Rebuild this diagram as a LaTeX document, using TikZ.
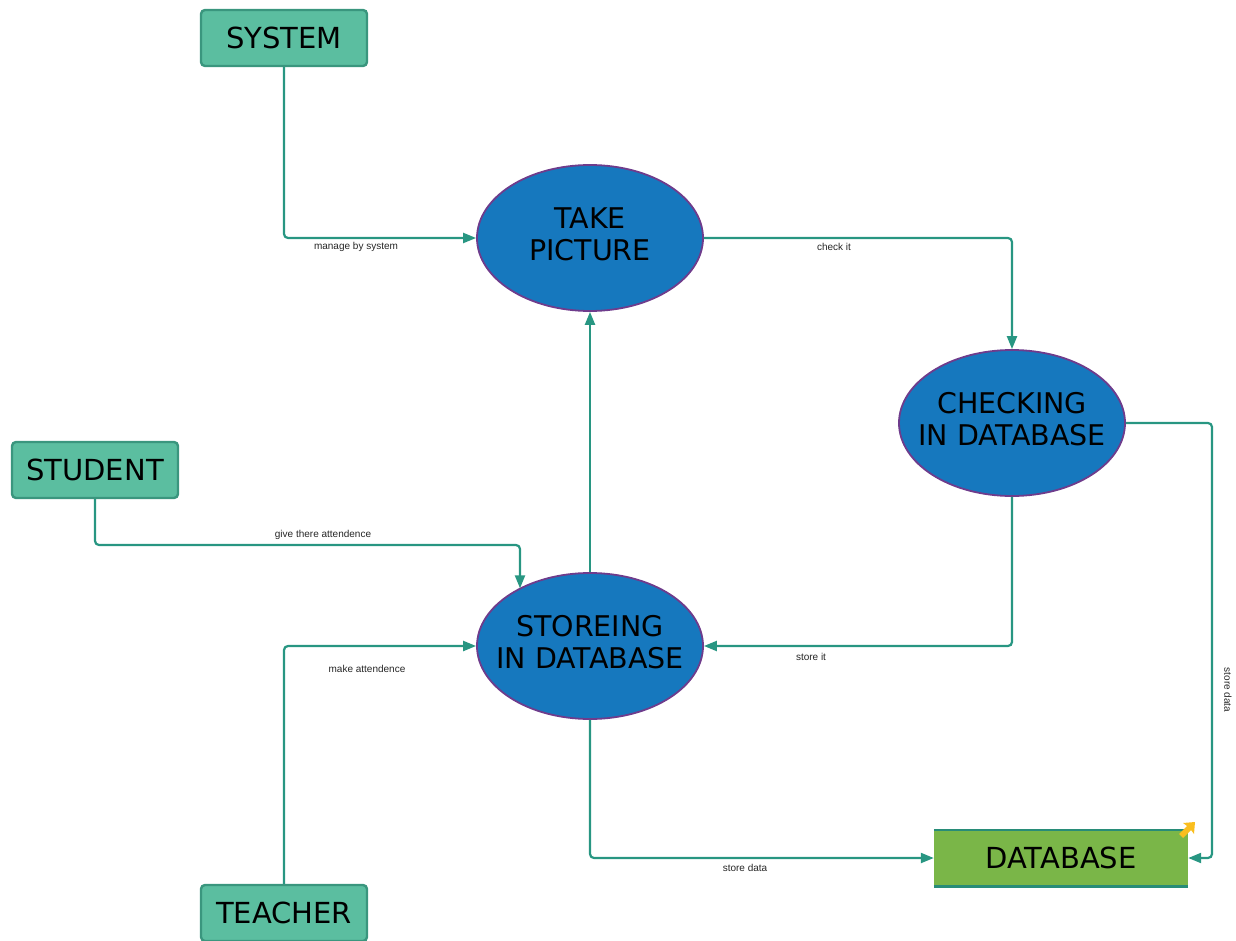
\documentclass[tikz,border=0pt]{standalone}
\usepackage{fontspec}
\setmainfont{Liberation Sans}
\newfontfamily\headfont{DejaVu Sans}
\usetikzlibrary{shapes.geometric,arrows.meta}
\definecolor{boxfill}{RGB}{91,190,160}
\definecolor{boxline}{RGB}{58,150,126}
\definecolor{ovalfill}{RGB}{22,120,190}
\definecolor{ovalline}{RGB}{110,60,140}
\definecolor{flow}{RGB}{40,150,130}
\definecolor{dbfill}{RGB}{122,182,72}
\definecolor{dbline}{RGB}{40,140,120}
\definecolor{tagyellow}{RGB}{250,190,30}
% two centred lines whose width does not count towards the node size
\newcommand{\twolines}[2]{\makebox[0pt]{\begin{tabular}{@{}c@{}}#1\\#2\end{tabular}}}
\tikzset{
  entity/.style={draw=boxline, line width=2.4pt, fill=boxfill, rounded corners=4pt,
    minimum width=166pt, minimum height=56pt, inner sep=0pt,
    font=\headfont\fontsize{29}{30}\selectfont},
  process/.style={ellipse, draw=ovalline, line width=1.8pt, fill=ovalfill,
    minimum width=226pt, minimum height=146pt, inner sep=0pt,
    font=\headfont\fontsize{28.5}{32}\selectfont},
  flowline/.style={draw=flow, line width=2.2pt, rounded corners=4pt,
    -{Triangle[length=13pt,width=10pt]}},
  flowlabel/.style={font=\fontsize{10}{12}\selectfont, text=black!85, inner sep=1pt}
}
\begin{document}
\begin{tikzpicture}[x=1pt,y=-1pt]
\useasboundingbox (0,0) rectangle (1236,941);

% external entities
\node[entity] (sys) at (284,38) {SYSTEM};
\node[entity] (stu) at (95,470) {STUDENT};
\node[entity] (tea) at (284,913) {TEACHER};

% processes
\node[process] (take) at (590,238) {\twolines{TAKE}{PICTURE}};
\node[process] (chk) at (1012,423) {\twolines{CHECKING}{IN DATABASE}};
\node[process] (sto) at (590,646) {\twolines{STOREING}{IN DATABASE}};

% data store
\node[minimum width=254pt, minimum height=56pt, inner sep=0pt, fill=dbfill,
      font=\headfont\fontsize{29}{30}\selectfont] (db) at (1061,858) {DATABASE};
\draw[dbline, line width=2.6pt] (db.north west) -- (db.north east);
\draw[dbline, line width=2.6pt] (db.south west) -- (db.south east);
\fill[tagyellow] (1179,834) -- (1187,826) -- (1183,823) -- (1195,822)
  -- (1194,834) -- (1191,830) -- (1183,838) -- cycle;

% bend points
\coordinate (sa) at (520,545);
\coordinate (ca) at (1212,858);

% flows
\draw[flowline] (sys.south) |- (take.west);
\draw[flowline] (take.east) -| (chk.north);
\draw[flowline] (chk.east) -| (ca) -- (db.east);
\draw[flowline] (chk.south) |- (sto.east);
\draw[flowline] (stu.south) |- (sa) -- (sa |- sto.141);
\draw[flowline] (tea.north) |- (sto.west);
\draw[flowline] (sto.north) -- (take.south);
\draw[flowline] (sto.south) |- (db.west);

% flow labels
\node[flowlabel] (l1) at (356,247) {manage by system};
\node[flowlabel] (l2) at (834,247) {check it};
\node[flowlabel] (l3) at (811,657) {store it};
\node[flowlabel] (l4) at (323,535) {give there attendence};
\node[flowlabel] (l5) at (367,669) {make attendence};
\node[flowlabel] (l6) at (745,868) {store data};
\node[flowlabel, rotate=-90] (l7) at (1228,690) {store data};
\end{tikzpicture}
\end{document}
